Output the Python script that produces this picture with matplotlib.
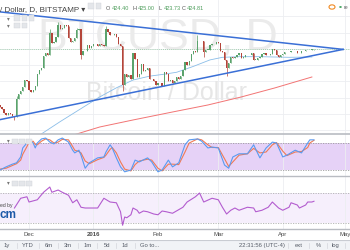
import matplotlib
matplotlib.use('Agg')
import matplotlib.pyplot as plt
import numpy as np

# day numbers: day 1 = 17 Nov 2015 ... day 152 = 16 Apr 2016
close_nov = [336, 333, 327, 323, 326, 324, 322, 320, 348, 356, 360, 367, 377, 375]
close_dec = [362, 358, 362, 368, 386, 393, 396, 414, 418, 415, 450, 434, 436, 443, 462,
             455, 457, 462, 461, 442, 436, 437, 442, 454, 455, 416, 422, 421, 431, 427, 430]
close_jan = [433, 432, 429, 433, 431, 430, 456, 451, 447, 446, 448, 444, 432, 430, 370,
             387, 381, 385, 378, 418, 409, 382, 387, 402, 391, 392, 395, 379, 378, 376, 369]
close_feb = [372, 373, 368, 390, 386, 376, 377, 373, 375, 381, 379, 384, 392, 405, 400,
             406, 417, 421, 420, 437, 437, 437, 420, 424, 424, 431, 432, 433, 436]
close_mar = [434, 422, 420, 408, 396, 404, 412, 411, 412, 416, 419, 411, 413, 415, 415,
             416, 418, 408, 408, 411, 412, 417, 418, 415, 416, 417, 425, 423, 416, 413, 416]
close_apr = [417, 420, 420, 420, 422, 421, 421, 418, 418, 421, 421, 424, 423, 424, 424.40, 424.81]
first_open = 338.0

# wicks that stick out past the bodies
wick_high = {9: 352, 25: 455, 29: 466, 38: 457, 52: 461, 96: 446, 152: 425.00}
wick_low = {8: 316, 40: 410, 60: 360, 99: 412, 110: 384, 152: 423.73}

# moving averages
ma_fast_days = [20, 30, 40, 49, 57, 65, 73, 80, 86, 94, 102, 108, 116, 126, 140, 151]
ma_fast = [292, 313, 333, 351, 365, 377, 383, 386, 389, 398, 408, 412, 413, 413, 412, 412.5]
ma_slow_days = [37, 49, 65, 84, 101, 117, 133, 151]
ma_slow = [293, 304.7, 315.5, 327.8, 338.6, 350.9, 364.7, 381.7]

# triangle trendlines
trend_days = [1, 166]
trend_upper = [482, 424.2]
trend_lower = [316, 424.2]

# stochastic
stoch_days = [1, 4, 7, 9, 11, 12, 14, 15, 17, 18, 19, 21, 23, 25, 27, 29, 31, 34, 36, 37,
              39, 40, 42, 44, 48, 51, 52, 54, 55, 57, 59, 61, 64, 66, 68, 72, 74, 77, 79, 82,
              84, 87, 90, 92, 96, 98, 101, 103, 106, 109, 111, 113, 116, 120, 123, 126, 129,
              132, 134, 137, 139, 143, 146, 149, 150, 152]
stoch_k = [20, 27, 33, 36, 49, 69, 80, 87, 80, 69, 80, 89, 91, 82, 78, 87, 91, 82, 64, 58,
           64, 53, 24, 36, 47, 49, 60, 76, 69, 47, 27, 16, 20, 42, 38, 47, 38, 16, 20, 42,
           27, 36, 76, 87, 89, 84, 69, 71, 69, 31, 24, 49, 56, 56, 76, 47, 69,
           82, 80, 49, 53, 64, 58, 80, 87, 87]
stoch_d = [22, 24, 30, 34, 42, 55, 72, 82, 84, 77, 76, 84, 89, 87, 80, 82, 88, 87, 72, 64,
           61, 58, 40, 34, 43, 48, 53, 66, 70, 58, 38, 22, 18, 32, 40, 44, 42, 24, 18, 33,
           33, 32, 60, 80, 89, 87, 76, 70, 70, 45, 28, 38, 53, 56, 68, 58, 60,
           76, 81, 62, 52, 60, 61, 70, 80, 86]

# RSI
rsi_days = [8, 11, 14, 15, 19, 22, 25, 26, 29, 31, 34, 36, 38, 40, 42, 45, 48, 51, 54, 57,
            59, 60, 61, 62, 64, 65, 67, 68, 70, 72, 75, 77, 79, 81, 84, 89, 91, 95, 97, 99,
            103, 106, 108, 110, 112, 114, 116, 120, 123, 124, 127, 130, 132, 135, 137, 140,
            141, 144, 145, 148, 149, 151, 152]
rsi = [50, 63, 65, 58, 61, 71, 78, 71, 74, 71, 67, 57, 61, 51, 50, 50, 50, 63, 58, 57,
       45, 27, 38, 37, 41, 50, 47, 43, 46, 45, 42, 41, 46, 45, 43, 51, 58, 65, 70, 58,
       63, 61, 51, 42, 47, 50, 47, 51, 50, 45, 47, 51, 58, 50, 47, 51,
       57, 54, 50, 54, 58, 58, 59]

month_days = [15, 46, 77, 106, 137, 167]
month_labels = ['Dec', '2016', 'Feb', 'Mar', 'Apr', 'May']

W, H = 350, 250
UP, DOWN = '#5aa36c', '#b4453a'
GRID = '#eceef1'
plt.rcParams['font.family'] = ['Liberation Sans', 'DejaVu Sans']


def fx(px):
    return px / W


def fy(py):
    return 1 - py / H


def panel(top, bottom):
    return [0, fy(bottom), 1, (bottom - top) / H]


def main():
    closes = np.array(close_nov + close_dec + close_jan + close_feb + close_mar + close_apr, float)
    days = np.arange(1, len(closes) + 1)
    opens = np.concatenate([[first_open], closes[:-1]])
    highs = np.maximum(opens, closes)
    lows = np.minimum(opens, closes)
    for d, v in wick_high.items():
        highs[d - 1] = v
    for d, v in wick_low.items():
        lows[d - 1] = v

    xlim = (15 - 29 / 2.08, 15 + 321 / 2.08)

    fig = plt.figure(figsize=(3.5, 2.5), dpi=100)

    # ---------------- price panel
    ax = fig.add_axes(panel(0, 134))
    ax.set_xlim(*xlim)
    ax.set_ylim(424.81 - 85 * 1.54, 424.81 + 49 * 1.54)
    for lvl in range(300, 500, 25):
        ax.axhline(lvl, color=GRID, lw=0.6, zorder=0)
    for d in month_days:
        ax.axvline(d, color=GRID, lw=0.6, zorder=0)

    # watermark (placed in pixels, kept behind the candles)
    ax.text(fx(158), fy(38), 'BTCUSD, D', fontsize=32, color='#ebebeb', ha='center', va='center',
            transform=fig.transFigure, zorder=0.5)
    ax.text(fx(166), fy(93), 'Bitcoin / Dollar', fontsize=18, color='#e6e6e6', ha='center',
            va='center', transform=fig.transFigure, zorder=0.5)

    ax.plot(ma_slow_days, ma_slow, color='#f27474', lw=0.7, zorder=2)
    ax.plot(ma_fast_days, ma_fast, color='#8abde8', lw=0.6, zorder=2)

    up = closes >= opens
    cols = np.where(up, UP, DOWN)
    ax.vlines(days, lows, highs, colors=cols, lw=0.5, zorder=3)
    body = np.maximum(np.abs(closes - opens), 0.8)
    ax.bar(days, body, bottom=np.minimum(opens, closes), width=0.62, color=cols, lw=0, zorder=3)

    ax.axhline(closes[-1], color='#8cc79c', lw=0.6, ls=(0, (1, 1.5)), zorder=1)

    ax.plot(trend_days, trend_upper, color='#3a6fd6', lw=1.1, zorder=4)
    ax.plot(trend_days, trend_lower, color='#3a6fd6', lw=1.1, zorder=4)

    for s in ax.spines.values():
        s.set_visible(False)
    ax.set_xticks([])
    ax.set_yticks([])

    # ---------------- stochastic panel
    axs = fig.add_axes(panel(134, 176))
    axs.set_xlim(*xlim)
    axs.set_ylim(6.7, 100)
    axs.axhspan(20, 80, color='#e6d2f7', lw=0, zorder=0)
    for lvl in (20, 80):
        axs.axhline(lvl, color='#9c9c9c', lw=0.6, ls=(0, (1.5, 1.5)), zorder=1)
    for d in month_days:
        axs.axvline(d, color=GRID, lw=0.6, zorder=0.5)
    axs.plot(stoch_days, stoch_d, color='#f07a55', lw=0.8, zorder=2)
    axs.plot(stoch_days, stoch_k, color='#5a9af0', lw=0.8, zorder=3)
    for k, s in axs.spines.items():
        s.set_visible(k == 'top')
        s.set_color('#b9bcc2')
        s.set_linewidth(1.2)
    axs.set_xticks([])
    axs.set_yticks([])

    # ---------------- RSI panel
    axr = fig.add_axes(panel(176, 229))
    axr.set_xlim(*xlim)
    axr.set_ylim(22, 92.7)
    axr.axhspan(30, 70, color='#f6effc', lw=0, zorder=0)
    for lvl in (30, 70):
        axr.axhline(lvl, color='#b0b0b0', lw=0.6, ls=(0, (1.5, 1.5)), zorder=1)
    for d in month_days:
        axr.axvline(d, color=GRID, lw=0.6, zorder=0.5)
    axr.plot(rsi_days, rsi, color='#b35ccf', lw=0.8, zorder=2)
    for k, s in axr.spines.items():
        s.set_visible(k in ('top', 'bottom'))
        s.set_color('#b9bcc2')
        s.set_linewidth(1.0)
    axr.set_xticks(month_days)
    axr.set_xticklabels(month_labels, fontsize=4.3, color='#4a4a4a')
    axr.get_xticklabels()[1].set_fontweight('bold')
    axr.tick_params(axis='x', length=0, pad=2.5)
    axr.set_yticks([])

    # ---------------- bottom toolbar
    axb = fig.add_axes([0, 0, 1, 10 / H])
    axb.set_xlim(0, W)
    axb.set_ylim(10, 0)
    axb.axis('off')
    axb.add_patch(plt.Rectangle((0, 0), W, 10, color='#f1f3f6', lw=0))
    axb.axhline(0.3, color='#c9ccd2', lw=0.8)
    for x, t in [(7, '1y'), (28, 'YTD'), (49, '6m'), (68, '3m'), (88, '1m'), (107, '5d'),
                 (125, '1d'), (150, 'Go to...'), (262, '22:31:56 (UTC-4)'), (299, 'ext'),
                 (318, '%'), (336, 'log')]:
        axb.text(x, 5.3, t, fontsize=4.2, color='#555b66', ha='center', va='center')
    for x in (17, 39, 58, 78, 97, 116, 135, 288, 309, 327, 345):
        axb.plot([x, x], [2.5, 8], color='#d3d6db', lw=0.5)

    # ---------------- header legend
    fig.text(fx(-0.5), fy(11.5), '/ Dollar, D, BITSTAMP \u25be', fontsize=5.8, color='#444444',
             va='baseline')
    for x, t, c in [(106, 'O', '#555555'), (112, '424.40', '#4e9e5c'), (132.5, 'H', '#555555'),
                    (138, '425.00', '#4e9e5c'), (158.5, 'L', '#555555'), (163.5, '423.73', '#4e9e5c'),
                    (181.5, 'C', '#555555'), (187, '424.81', '#4e9e5c')]:
        fig.text(fx(x), fy(10.5), t, fontsize=4.0, color=c, va='baseline')
    for (x0, y0, n) in [(88.5, 3.5, 2), (14.5, 15.5, 3), (14.5, 23.0, 2), (12, 138.5, 3), (12, 180.5, 3)]:
        for i in range(n):
            fig.patches.append(plt.Rectangle((fx(x0 + i * 7), fy(y0 + 5)), 5.5 / W, 5 / H,
                                             transform=fig.transFigure, facecolor='#e4e6ea',
                                             edgecolor='#d0d3d8', lw=0.3))
    for y in (20, 27.5, 142.5, 184.5):
        fig.text(fx(7), fy(y), '\u25be', fontsize=4, color='#777777', va='baseline')
    fig.patches.append(matplotlib.patches.Circle((fx(332), fy(7)), 3 / W, transform=fig.transFigure,
                                                 facecolor='white', edgecolor='#f08a24', lw=0.8))
    fig.patches.append(matplotlib.patches.Circle((fx(340.5), fy(7)), 1.3 / W, transform=fig.transFigure,
                                                 facecolor='#3fa35b', lw=0))
    fig.text(fx(343.5), fy(9), 're', fontsize=3.8, color='#666666', va='baseline')

    # feed logo over the RSI panel
    fig.text(fx(0), fy(207.5), 'ed by', fontsize=3.6, color='#444444', va='baseline')
    fig.text(fx(0), fy(218), 'cm', fontsize=8.5, color='#1e5aa8', fontweight='bold', va='baseline')

    fig.savefig('out.png', dpi=100)


if __name__ == '__main__':
    main()
